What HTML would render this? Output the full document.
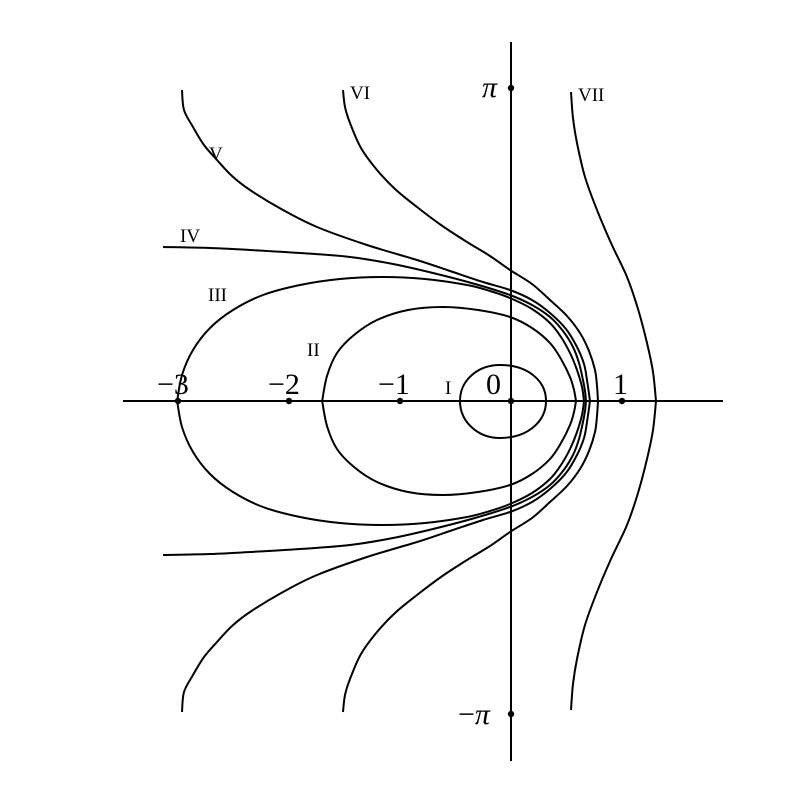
<!DOCTYPE html>
<html><head><style>
html,body{margin:0;padding:0;background:#fff;}
svg{display:block;}
text{font-family:"Liberation Serif",serif;fill:#000;}
</style></head><body>
<svg width="800" height="791" viewBox="0 0 800 791" xmlns="http://www.w3.org/2000/svg">
<g fill="none" stroke="#000" stroke-width="2" stroke-linejoin="round" stroke-linecap="butt">
<line x1="123" y1="401" x2="723" y2="401"/>
<line x1="511" y1="42" x2="511" y2="761"/>
<g id="up">
<polyline class="s" points="182,90 184,110 193,127 204,145 217,160 232,176 250,190 283,210 317,227 367,245 417,260 450,271 483,282 510,290 532,300 550,313 566,329 577,347 584,364 587,380 590,401"/>
<polyline class="s" points="343,90 345,107 350,123 361,148 377,170 395,189 417,207 441,225 467,242 490,256 510,270 532,284 550,300 567,316 580,333 589,351 595,370 597,386 598,401"/>
<polyline class="s" points="163,247 210,248 250,250 300,253 350,257 393,264 433,273 475,284 510,295 532,305 550,317 563,331 573,347 579,363 583,380 585,391 586,401"/>
<polyline class="s" points="177,402 182,375 193,350 210,328 233,310 263,295 300,285 340,279 383,277 425,279 467,285 490,291 510,298 532,309 550,323 561,337 570,353 577,370 582,387 584,401"/>
<polyline class="s" points="322,402 327,376 337,353 354,335 377,320 408,310 443,307 478,310 510,317 532,328 550,343 561,359 570,377 574,390 576,401"/>
<polyline class="s" points="571,92 573,118 577,143 585,177 597,210 611,243 627,277 638,309 647,343 653,372 656,401"/>
</g>
<use href="#up" transform="translate(0,802) scale(1,-1)"/>
<path d="M460,401 C460,380 478,365 500,365 C527,365 546,380 546,401 C546,422 527,438 500,438 C478,438 460,422 460,401 Z"/>
</g>
<g fill="#000">
<circle cx="178" cy="401" r="3.2"/><circle cx="289" cy="401" r="3.2"/><circle cx="400" cy="401" r="3.2"/>
<circle cx="511" cy="401" r="3.2"/><circle cx="622" cy="401" r="3.2"/>
<circle cx="511" cy="88" r="3.2"/><circle cx="511" cy="714" r="3.2"/>
</g>
<g font-size="30">
<text x="157" y="394">−3</text>
<text x="268" y="394">−2</text>
<text x="378" y="394">−1</text>
<text x="486" y="394">0</text>
<text x="613" y="394">1</text>
<text x="482" y="97" font-style="italic">π</text>
<text x="458" y="724">−<tspan font-style="italic">π</tspan></text>
</g>
<g font-size="19">
<text x="209" y="160">V</text>
<text x="350" y="99">VI</text>
<text x="578" y="101">VII</text>
<text x="180" y="242">IV</text>
<text x="208" y="301">III</text>
<text x="307" y="356">II</text>
<text x="445" y="394">I</text>
</g>
</svg>
<script>
document.querySelectorAll('polyline.s').forEach(function(pl){
  var p=pl.getAttribute('points').trim().split(/\s+/).map(function(s){return s.split(',').map(Number);});
  var d='M'+p[0][0]+','+p[0][1];
  for(var i=0;i<p.length-1;i++){
    var p0=p[i-1]||p[i],p1=p[i],p2=p[i+1],p3=p[i+2]||p[i+1];
    var c1=[p1[0]+(p2[0]-p0[0])/6,p1[1]+(p2[1]-p0[1])/6];
    var c2=[p2[0]-(p3[0]-p1[0])/6,p2[1]-(p3[1]-p1[1])/6];
    d+=' C'+c1[0]+','+c1[1]+' '+c2[0]+','+c2[1]+' '+p2[0]+','+p2[1];
  }
  var path=document.createElementNS('http://www.w3.org/2000/svg','path');
  path.setAttribute('d',d);
  pl.parentNode.replaceChild(path,pl);
});
</script>
</body></html>
